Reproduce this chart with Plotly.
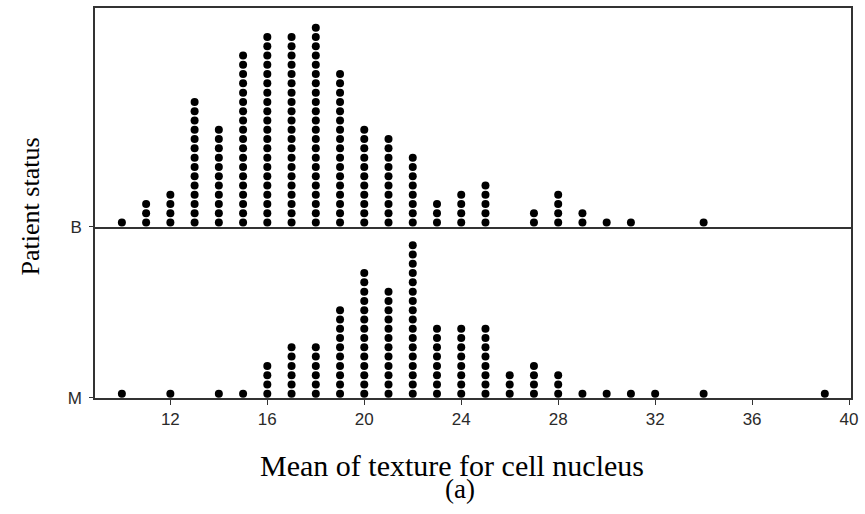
import plotly.graph_objects as go
from plotly.subplots import make_subplots

# Dot plot data: value -> number of dots
b_values = [10, 11, 12, 13, 14, 15, 16, 17, 18, 19, 20, 21, 22, 23, 24, 25, 27, 28, 29, 30, 31, 34]
b_counts = [1, 3, 4, 14, 11, 19, 21, 21, 22, 17, 11, 10, 8, 3, 4, 5, 2, 4, 2, 1, 1, 1]
m_values = [10, 12, 14, 15, 16, 17, 18, 19, 20, 21, 22, 23, 24, 25, 26, 27, 28, 29, 30, 31, 32, 34, 39]
m_counts = [1, 1, 1, 1, 4, 6, 6, 10, 14, 12, 17, 8, 8, 8, 3, 4, 3, 1, 1, 1, 1, 1, 1]
x_ticks = [12, 16, 20, 24, 28, 32, 36, 40]
group_labels = ["B", "M"]


def stack(values, counts, base=0.46):
    xs, ys = [], []
    for v, c in zip(values, counts):
        for k in range(c):
            xs.append(v)
            ys.append(base + k)
    return xs, ys


W, H = 865, 514
ml, mr, mt, mb = 95, 8, 6, 116
plot_h = H - mt - mb
bottom_h = 172
split = bottom_h / plot_h
dot_px = 9.33

fig = make_subplots(rows=2, cols=1, shared_xaxes=True, vertical_spacing=0,
                    row_heights=[1 - split, split])

bx, by = stack(b_values, b_counts)
mx, my = stack(m_values, m_counts)
marker = dict(color="black", size=8, line=dict(width=0))
fig.add_trace(go.Scatter(x=bx, y=by, mode="markers", marker=marker, showlegend=False,
                         hoverinfo="x"), row=1, col=1)
fig.add_trace(go.Scatter(x=mx, y=my, mode="markers", marker=marker, showlegend=False,
                         hoverinfo="x"), row=2, col=1)

line_col = "#333333"
tick_font = dict(family="Liberation Sans, Arial, sans-serif", size=17, color="#2a2a2a")
xr = [8.891, 40.08]

fig.update_xaxes(range=xr, showgrid=False, zeroline=False, showline=True,
                 linecolor=line_col, linewidth=1.6)
fig.update_xaxes(showticklabels=False, ticks="", mirror=True, row=1, col=1)
fig.update_xaxes(tickvals=x_ticks, ticktext=[str(t) for t in x_ticks], ticks="outside",
                 ticklen=5, tickwidth=1, tickcolor=line_col, tickfont=tick_font,
                 mirror=False, row=2, col=1)

top_range = [0, (plot_h - bottom_h) / dot_px]
bot_range = [0, bottom_h / dot_px]
fig.update_yaxes(showgrid=False, zeroline=False, showline=True, linecolor=line_col,
                 linewidth=1.6, mirror=True, ticks="outside", ticklen=4, tickwidth=1,
                 tickcolor=line_col, tickfont=tick_font, tickvals=[0],
                 ticklabelstandoff=4)
fig.update_yaxes(range=top_range, ticktext=[group_labels[0]], row=1, col=1)
fig.update_yaxes(range=bot_range, ticktext=[group_labels[1]], row=2, col=1)

serif = "Liberation Serif, Times New Roman, serif"
fig.add_annotation(text="Patient status", xref="paper", yref="paper",
                   x=(30 - ml) / (W - ml - mr), y=0.49, textangle=-90,
                   showarrow=False, font=dict(family=serif, size=26, color="black"),
                   xanchor="center", yanchor="middle")
fig.add_annotation(text="Mean of texture for cell nucleus", xref="paper", yref="paper",
                   x=(455 - ml) / (W - ml - mr), y=-(466 - (H - mb)) / plot_h,
                   showarrow=False, font=dict(family=serif, size=30, color="black"),
                   xanchor="center", yanchor="middle")
fig.add_annotation(text="(a)", xref="paper", yref="paper",
                   x=(463 - ml) / (W - ml - mr), y=-(489 - (H - mb)) / plot_h,
                   showarrow=False, font=dict(family=serif, size=27, color="black"),
                   xanchor="center", yanchor="middle")

fig.update_layout(width=W, height=H, margin=dict(l=ml, r=mr, t=mt, b=mb),
                  paper_bgcolor="white", plot_bgcolor="white")

fig.write_html("out.html")
